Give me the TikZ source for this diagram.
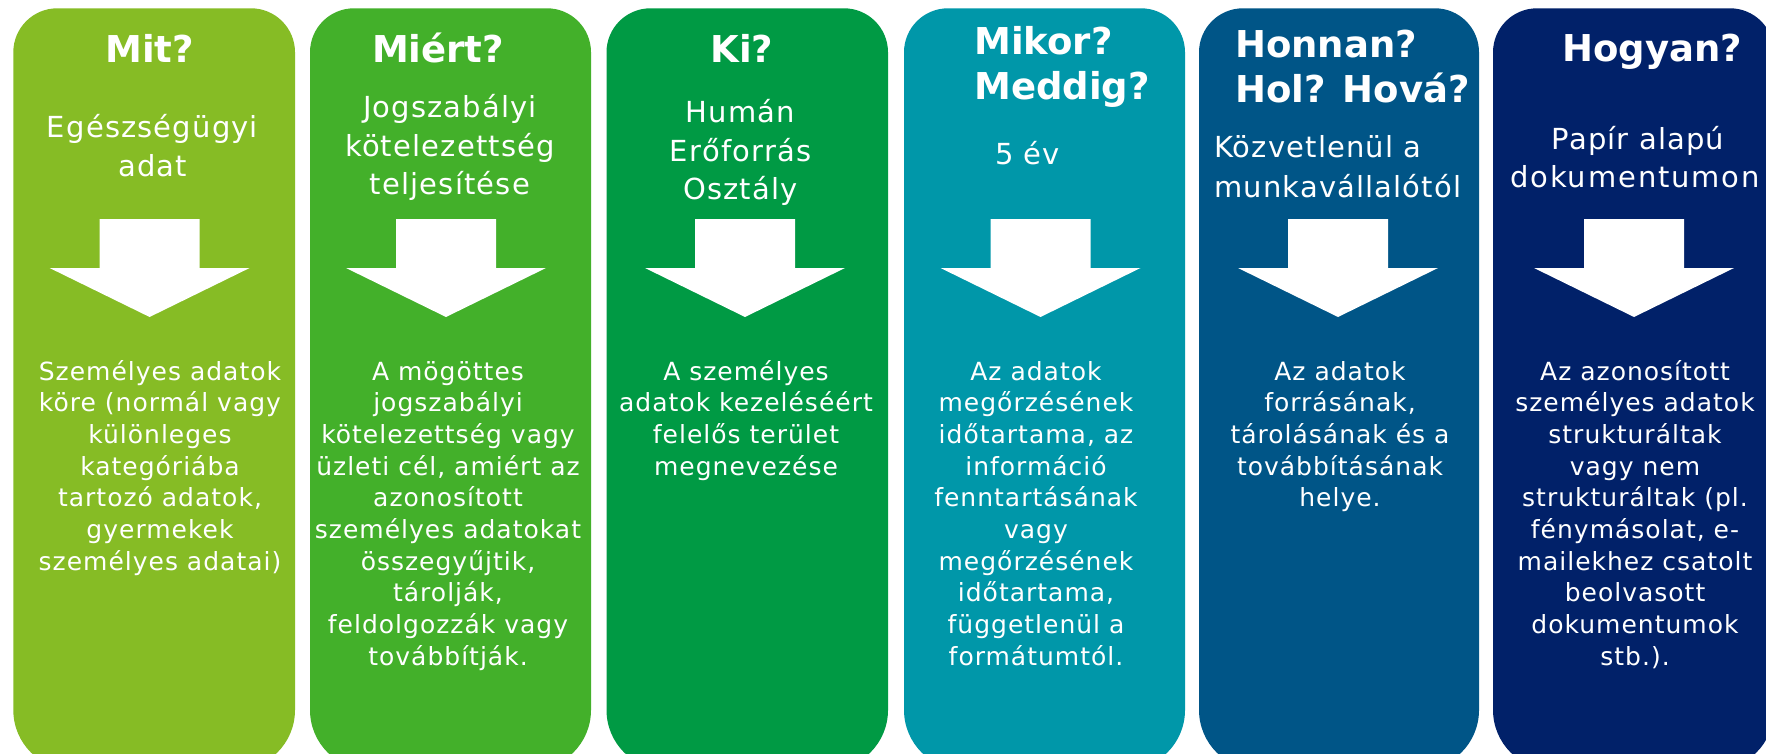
\documentclass[tikz,border=0pt]{standalone}
\usepackage{fontspec}
\setmainfont{DejaVu Sans}
\newfontfamily\bodyf{DejaVu Sans}[LetterSpace=4]
\newfontfamily\widef{DejaVu Sans}[LetterSpace=6.5]
\definecolor{cA}{HTML}{86BC25}
\definecolor{cB}{HTML}{43B02A}
\definecolor{cC}{HTML}{009A44}
\definecolor{cD}{HTML}{0097A9}
\definecolor{cE}{HTML}{005587}
\definecolor{cF}{HTML}{012169}
\newcommand\mycolumn[3]{%
  \fill[#1] (#2,400) [rounded corners=44] -- (#2,8.3) -- (#3,8.3) -- (#3,400)
    [rounded corners=60] -- (#3,770) -- (#2,770) -- cycle;}
\newcommand\bigarrow[1]{%
  \fill[white] ({#1-50},219) -- ({#1+50},219) -- ({#1+50},268) -- ({#1+100},268)
    -- (#1,317) -- ({#1-100},268) -- ({#1-50},268) -- cycle;}
\begin{document}
\begin{tikzpicture}[x=1pt,y=-1pt,
  hd/.style={anchor=base, inner sep=0, text=white, font=\fontsize{37}{44}\selectfont\bfseries},
  hdl/.style={hd, anchor=base west},
  sub/.style={anchor=base, inner sep=0, text=white, font=\bodyf\fontsize{29}{39}\selectfont},
  subl/.style={sub, anchor=base west},
  body/.style={anchor=base, inner sep=0, text=white, font=\bodyf\fontsize{25}{31.7}\selectfont}]
\useasboundingbox (0,0) rectangle (1766,754);
\clip (0,0) rectangle (1766,754);
\fill[white] (0,0) rectangle (1766,754);

% columns
\mycolumn{cA}{13.3}{295}
\mycolumn{cB}{310}{591}
\mycolumn{cC}{606.5}{888}
\mycolumn{cD}{904}{1185}
\mycolumn{cE}{1199}{1479}
\mycolumn{cF}{1493}{1774}

% arrows
\bigarrow{149.6}
\bigarrow{446}
\bigarrow{745}
\bigarrow{1040.5}
\bigarrow{1338}
\bigarrow{1634}

% headers
\node[hd] (h1) at (149.6,63) {Mit?};
\node[hd] (h2) at (438,63) {Miért?};
\node[hd] (h3) at (742,63) {Ki?};
\node[hdl] (h4a) at (974,55) {Mikor?};
\node[hdl] (h4b) at (974,100) {Meddig?};
\node[hdl] (h5a) at (1235,58) {Honnan?};
\node[hdl] (h5b) at (1235,103) {Hol? Hová?};
\node[hd] (h6) at (1652,62) {Hogyan?};

% sub texts
\node[sub] (s1a) at (152.5,138) {Egészségügyi};
\node[sub] (s1b) at (152.5,177) {adat};
\node[sub] (s2a) at (450,118) {Jogszabályi};
\node[sub] (s2b) at (450,157) {kötelezettség};
\node[sub] (s2c) at (450,195) {teljesítése};
\node[sub] (s3a) at (740.5,123) {Humán};
\node[sub] (s3b) at (740.5,162) {Erőforrás};
\node[sub] (s3c) at (740.5,200) {Osztály};
\node[sub] (s4a) at (1027.5,165) {5 év};
\node[subl] (s5a) at (1214,158) {Közvetlenül a};
\node[subl] (s5b) at (1214,197) {munkavállalótól};
\node[sub] (s6a) at (1638,150) {Papír alapú};
\node[subl, font=\widef\fontsize{29}{39}\selectfont] (s6b) at (1510,188) {dokumentumon};

% body texts
\foreach \t [count=\i] in {Személyes adatok,{köre (normál vagy},különleges,kategóriába,{tartozó adatok,},gyermekek,{személyes adatai)}}
  \node[body] (ba\i) at (160,{380+31.7*(\i-1)}) {\t};
\foreach \t [count=\i] in {A mögöttes,jogszabályi,kötelezettség vagy,{üzleti cél, amiért az},azonosított,személyes adatokat,{összegyűjtik,},{tárolják,},feldolgozzák vagy,továbbítják.}
  \node[body] (bb\i) at (448,{380+31.7*(\i-1)}) {\t};
\foreach \t [count=\i] in {A személyes,adatok kezeléséért,felelős terület,megnevezése}
  \node[body] (bc\i) at (746,{380+31.7*(\i-1)}) {\t};
\foreach \t [count=\i] in {Az adatok,megőrzésének,{időtartama, az},információ,fenntartásának,vagy,megőrzésének,{időtartama,},függetlenül a,formátumtól.}
  \node[body] (bd\i) at (1036,{380+31.7*(\i-1)}) {\t};
\foreach \t [count=\i] in {Az adatok,{forrásának,},tárolásának és a,továbbításának,helye.}
  \node[body] (be\i) at (1340,{380+31.7*(\i-1)}) {\t};
\foreach \t [count=\i] in {Az azonosított,személyes adatok,strukturáltak,vagy nem,{strukturáltak (pl.},{fénymásolat, e-},mailekhez csatolt,beolvasott,dokumentumok,stb.).}
  \node[body] (bf\i) at (1635,{380+31.7*(\i-1)}) {\t};
\end{tikzpicture}
\end{document}
